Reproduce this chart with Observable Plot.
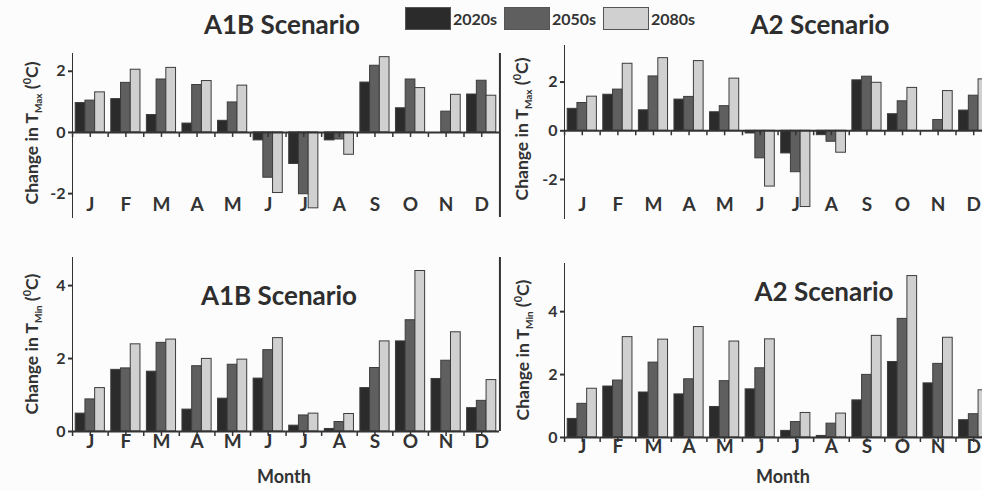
<!DOCTYPE html>
<html><head><meta charset="utf-8">
<script src="https://cdn.jsdelivr.net/npm/d3@7"></script>
<script src="https://cdn.jsdelivr.net/npm/@observablehq/plot@0.6"></script>
<style>
body{margin:0;background:#fcfcfc;font-family:Lato,sans-serif;font-weight:bold;color:#333;}
#chart{position:relative;width:982px;height:490px;overflow:hidden;}
.panel{position:absolute;}
.panel svg{max-width:none !important;}
.lbl{position:absolute;white-space:nowrap;transform:translate(-50%,-50%);}
.title{font-size:26px;color:#2e2e2e;}
.month{font-size:18px;}
.ytitle{position:absolute;white-space:nowrap;transform:translate(-50%,-50%) rotate(-90deg);font-size:17.5px;}
.ytitle sub{font-size:10px;}
.ytitle sup{font-size:11px;}
#legend{position:absolute;left:405px;top:7px;display:flex;align-items:center;font-size:16px;}
#legend .item{display:flex;align-items:center;width:99px;}
#legend .sw{width:46px;height:23px;border:1px solid #555;box-sizing:border-box;margin-right:2px;}
g[aria-label^="y-axis"] path, g[aria-label^="y-axis"] line{stroke-width:2px;}
</style></head>
<body>
<div id="chart"></div>
<script>
const monthKeys = ["Jan","Feb","Mar","Apr","May","Jun","Jul","Aug","Sep","Oct","Nov","Dec"];
const monthLabels = ["J","F","M","A","M","J","J","A","S","O","N","D"];
const series = ["2020s","2050s","2080s"];
const seriesColors = ["#2b2b2b","#5f5f5f","#d0d0d0"];
const tmaxTicks = [-2, 0, 2];
const tminTicks = [0, 2, 4];

const a1bTmax2020 = [0.96,1.09,0.57,0.29,0.38,-0.26,-1.03,-0.26,1.63,0.79,0,1.24];
const a1bTmax2050 = [1.04,1.62,1.73,1.55,0.98,-1.48,-2.02,-0.23,2.18,1.73,0.68,1.69];
const a1bTmax2080 = [1.31,2.05,2.11,1.68,1.53,-1.98,-2.48,-0.73,2.46,1.45,1.23,1.20];

const a2Tmax2020 = [0.90,1.48,0.84,1.28,0.76,-0.11,-0.93,-0.18,2.07,0.68,0,0.83];
const a2Tmax2050 = [1.14,1.69,2.23,1.39,1.01,-1.13,-1.70,-0.45,2.22,1.21,0.44,1.44];
const a2Tmax2080 = [1.40,2.75,2.98,2.86,2.14,-2.29,-3.13,-0.90,1.97,1.76,1.63,2.11];

const a1bTmin2020 = [0.49,1.69,1.64,0.60,0.90,1.45,0.16,0.07,1.19,2.47,1.44,0.64];
const a1bTmin2050 = [0.88,1.73,2.43,1.79,1.83,2.23,0.44,0.26,1.74,3.05,1.94,0.84];
const a1bTmin2080 = [1.19,2.39,2.52,1.99,1.97,2.56,0.49,0.48,2.47,4.40,2.72,1.41];

const a2Tmin2020 = [0.59,1.62,1.43,1.37,0.97,1.53,0.21,0.05,1.18,2.40,1.72,0.55];
const a2Tmin2050 = [1.07,1.81,2.38,1.85,1.79,2.20,0.49,0.44,1.99,3.77,2.34,0.74];
const a2Tmin2080 = [1.55,3.19,3.11,3.51,3.05,3.12,0.78,0.76,3.23,5.13,3.17,1.50];

function rowsOf(a, b, c) {
  const vals = [a, b, c];
  return monthKeys.flatMap((m, i) => series.map((s, j) => ({month: m, label: monthLabels[i], series: s, value: vals[j][i]})));
}

const chart = document.getElementById("chart");

function panel({rows, domain, ticks, left, top, width, height, mt, mb, ml, labelDy, rightLine}) {
  const marks = [
    Plot.barY(rows, {x: "series", y: "value", fill: "series", stroke: "#3c3c3c", strokeWidth: 1}),
    Plot.ruleY([0], {stroke: "#333", strokeWidth: 2}),
    Plot.ruleX(rows, {filter: d => d.series === "2050s", x: "series", y1: () => 0, y2: () => 0, insetBottom: -5, stroke: "#333", strokeWidth: 1.5}),
    Plot.ruleX(rows, {filter: d => d.series === "2020s", x: "series", dx: -8, y1: () => 0, y2: () => 0, insetBottom: -5, stroke: "#333", strokeWidth: 1.5}),
    Plot.text(rows, {filter: d => d.series === "2050s", x: "series", text: "label", frameAnchor: "bottom", dy: labelDy, fontSize: 19, fontWeight: "bold", fill: "#333"})
  ];
  if (rightLine) marks.push(Plot.ruleX(rows, {filter: d => d.month === "Dec" && d.series === "2080s", x: "series", dx: 8.5, stroke: "#333", strokeWidth: 2}));
  const p = Plot.plot({
    width, height, marginTop: mt, marginBottom: mb, marginLeft: ml, marginRight: 1,
    style: {background: "transparent", fontFamily: "Lato, sans-serif", fontSize: "16px", fontWeight: "bold", color: "#333", overflow: "visible", maxWidth: "none"},
    facet: {data: rows, x: "month"},
    fx: {domain: monthKeys, padding: 0, round: false, axis: null},
    x: {domain: series, paddingInner: 0, paddingOuter: 0.33, round: false, axis: null},
    y: {domain, ticks, tickFormat: d => String(d), tickSize: 4, tickPadding: 3, line: true, label: null},
    color: {domain: series, range: seriesColors},
    marks
  });
  const wrap = document.createElement("div");
  wrap.className = "panel";
  wrap.style.left = left + "px";
  wrap.style.top = top + "px";
  wrap.style.width = width + "px";
  wrap.style.height = height + "px";
  wrap.appendChild(p);
  chart.appendChild(wrap);
}

panel({rows: rowsOf(a1bTmax2020, a1bTmax2050, a1bTmax2080), domain: [-2.78, 2.58], ticks: tmaxTicks,
  left: 0, top: 0, width: 500, height: 225, mt: 53, mb: 8, ml: 72, labelDy: -7, rightLine: true});
panel({rows: rowsOf(a2Tmax2020, a2Tmax2050, a2Tmax2080), domain: [-3.6, 3.5], ticks: tmaxTicks,
  left: 490, top: 0, width: 502, height: 225, mt: 45, mb: 7, ml: 74, labelDy: -8, rightLine: false});
panel({rows: rowsOf(a1bTmin2020, a1bTmin2050, a1bTmin2080), domain: [0, 4.77], ticks: tminTicks,
  left: 0, top: 240, width: 500, height: 250, mt: 17, mb: 59, ml: 72, labelDy: 16, rightLine: true});
panel({rows: rowsOf(a2Tmin2020, a2Tmin2050, a2Tmin2080), domain: [0, 5.53], ticks: tminTicks,
  left: 490, top: 240, width: 502, height: 250, mt: 23, mb: 53, ml: 74, labelDy: 15, rightLine: false});

function label(text, cls, x, y) {
  const d = document.createElement("div");
  d.className = cls;
  d.innerHTML = text;
  d.style.left = x + "px";
  d.style.top = y + "px";
  chart.appendChild(d);
}
label("A1B Scenario", "lbl title", 282, 24);
label("A2 Scenario", "lbl title", 820, 24);
label("A1B Scenario", "lbl title", 279, 295);
label("A2 Scenario", "lbl title", 824, 291);
label("Month", "lbl month", 284, 476);
label("Month", "lbl month", 783, 476);
label("Change in T<sub>Max</sub> (<sup>0</sup>C)", "ytitle", 32, 133);
label("Change in T<sub>Max</sub> (<sup>0</sup>C)", "ytitle", 522, 129);
label("Change in T<sub>Min</sub> (<sup>0</sup>C)", "ytitle", 32, 344);
label("Change in T<sub>Min</sub> (<sup>0</sup>C)", "ytitle", 523, 350);

const legend = document.createElement("div");
legend.id = "legend";
series.forEach((s, i) => {
  const item = document.createElement("div");
  item.className = "item";
  const sw = document.createElement("div");
  sw.className = "sw";
  sw.style.background = seriesColors[i];
  const t = document.createElement("span");
  t.textContent = s;
  item.appendChild(sw);
  item.appendChild(t);
  legend.appendChild(item);
});
chart.appendChild(legend);
</script>
</body></html>
